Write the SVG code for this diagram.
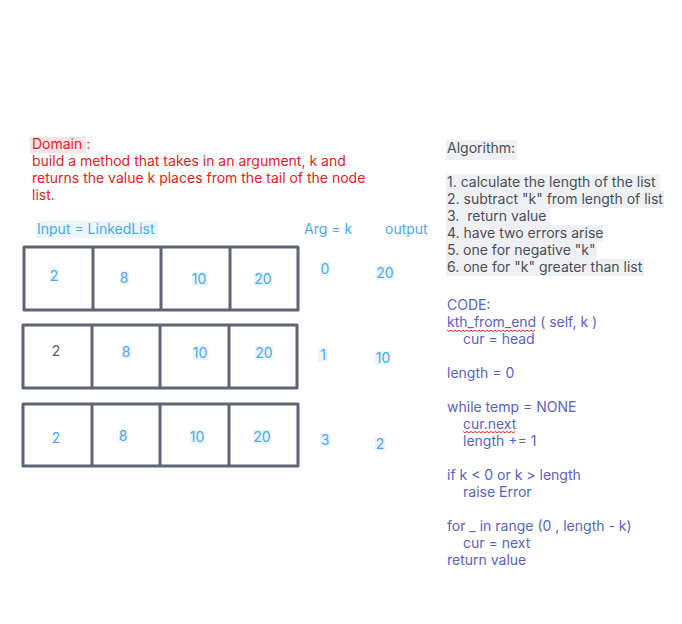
<svg xmlns="http://www.w3.org/2000/svg" width="682" height="624" viewBox="0 0 682 624">
<style>
text{font-family:Inter,"Noto Sans","Liberation Sans",sans-serif;font-size:14px;white-space:pre;}
.red{fill:#e8231e;}
.blue{fill:#4ea8f2;}
.alg{fill:#4a4e59;}
.code{fill:#5963cc;}
.dark{fill:#5a606b;}
.hb{fill:#eaf5fe;}
.hg{fill:#eef0f3;}
.hp{fill:#fde3e3;}
.box{fill:#fff;stroke:#5f6576;stroke-width:3;stroke-linejoin:round;}
.div{stroke:#5f6576;stroke-width:3;}
.sq{fill:none;stroke:#e0302a;stroke-width:1;}
</style>
<rect width="682" height="624" fill="#fff"/>
<g id="domain">
<rect class="hp" x="30" y="137" width="56" height="16"/>
<text class="red" x="32" y="149">Domain :</text>
<text class="red" x="32" y="166">build a method that takes in an argument, k and</text>
<text class="red" x="32" y="183">returns the value k places from the tail of the node</text>
<text class="red" x="32" y="200">list.</text>
</g>
<g id="headers">
<rect class="hb" x="36" y="221" width="122" height="17"/>
<text class="blue" x="37" y="234">Input = LinkedList</text>
<text class="blue" x="304" y="234">Arg = k</text>
<text class="blue" x="385" y="234">output</text>
</g>
<g id="row1">
<rect class="box" x="24" y="247" width="274" height="63"/>
<line class="div" x1="93" y1="247" x2="93" y2="310"/>
<line class="div" x1="161" y1="247" x2="161" y2="310"/>
<line class="div" x1="230" y1="247" x2="230" y2="310"/>
<rect class="hb" x="50" y="268" width="9" height="14"/>
<text class="blue" x="54" y="281" text-anchor="middle">2</text>
<rect class="hb" x="120" y="271" width="9" height="14"/>
<text class="blue" x="124" y="283" text-anchor="middle">8</text>
<rect class="hb" x="192" y="272" width="15" height="14"/>
<text class="blue" x="199" y="284" text-anchor="middle">10</text>
<rect class="hb" x="254" y="272" width="18" height="14"/>
<text class="blue" x="263" y="284" text-anchor="middle">20</text>
<rect class="hb" x="320" y="262" width="10" height="14"/>
<text class="blue" x="325" y="274" text-anchor="middle">0</text>
<rect class="hb" x="376" y="266" width="18" height="14"/>
<text class="blue" x="385" y="278" text-anchor="middle">20</text>
</g>
<g id="row2">
<rect class="box" x="23" y="325" width="274" height="63"/>
<line class="div" x1="92" y1="325" x2="92" y2="388"/>
<line class="div" x1="160" y1="325" x2="160" y2="388"/>
<line class="div" x1="229" y1="325" x2="229" y2="388"/>
<text class="dark" x="56" y="356" text-anchor="middle">2</text>
<rect class="hb" x="122" y="345" width="9" height="14"/>
<text class="blue" x="126" y="357" text-anchor="middle">8</text>
<rect class="hb" x="193" y="346" width="15" height="14"/>
<text class="blue" x="200" y="358" text-anchor="middle">10</text>
<rect class="hb" x="255" y="346" width="18" height="14"/>
<text class="blue" x="264" y="358" text-anchor="middle">20</text>
<rect class="hb" x="318" y="348" width="9" height="14"/>
<text class="blue" x="323" y="360" text-anchor="middle">1</text>
<rect class="hb" x="375" y="351" width="16" height="14"/>
<text class="blue" x="383" y="363" text-anchor="middle">10</text>
</g>
<g id="row3">
<rect class="box" x="23" y="404" width="275" height="62"/>
<line class="div" x1="92" y1="404" x2="92" y2="466"/>
<line class="div" x1="160" y1="404" x2="160" y2="466"/>
<line class="div" x1="229" y1="404" x2="229" y2="466"/>
<text class="blue" x="56" y="443" text-anchor="middle">2</text>
<rect class="hb" x="119" y="429" width="9" height="14"/>
<text class="blue" x="123" y="441" text-anchor="middle">8</text>
<rect class="hb" x="190" y="430" width="15" height="14"/>
<text class="blue" x="197" y="442" text-anchor="middle">10</text>
<rect class="hb" x="253" y="430" width="18" height="14"/>
<text class="blue" x="262" y="442" text-anchor="middle">20</text>
<rect class="hb" x="320" y="433" width="10" height="14"/>
<text class="blue" x="325" y="445" text-anchor="middle">3</text>
<rect class="hb" x="375" y="437" width="10" height="14"/>
<text class="blue" x="380" y="449" text-anchor="middle">2</text>
</g>
<g id="algorithm">
<rect class="hg" x="446" y="140" width="71" height="20"/>
<text class="alg" x="447" y="153">Algorithm:</text>
<rect class="hg" x="446" y="174" width="214" height="17"/>
<rect class="hg" x="446" y="191" width="218" height="17"/>
<rect class="hg" x="446" y="208" width="104" height="17"/>
<rect class="hg" x="446" y="225" width="157" height="17"/>
<rect class="hg" x="446" y="242" width="151" height="17"/>
<rect class="hg" x="446" y="259" width="198" height="17"/>
<text class="alg" x="447" y="187">1. calculate the length of the list</text>
<text class="alg" x="447" y="204">2. subtract "k" from length of list</text>
<text class="alg" x="447" y="221" xml:space="preserve">3.  return value</text>
<text class="alg" x="447" y="238">4. have two errors arise</text>
<text class="alg" x="447" y="255">5. one for negative "k"</text>
<text class="alg" x="447" y="272">6. one for "k" greater than list</text>
</g>
<g id="code">
<text class="code" x="447" y="310">CODE:</text>
<text class="code" x="447" y="327">kth_from_end ( self, k )</text>
<text class="code" x="463" y="344">cur = head</text>
<text class="code" x="447" y="378">length = 0</text>
<text class="code" x="447" y="412">while temp = NONE</text>
<text class="code" x="463" y="429">cur.next</text>
<text class="code" x="463" y="446">length += 1</text>
<text class="code" x="447" y="480">if k &lt; 0 or k &gt; length</text>
<text class="code" x="463" y="497">raise Error</text>
<text class="code" x="447" y="531">for _ in range (0 , length - k)</text>
<text class="code" x="463" y="548">cur = next</text>
<text class="code" x="447" y="565">return value</text>
<path class="sq" d="M447 330 l2 1.5 l2 -1.5 l2 1.5 l2 -1.5 l2 1.5 l2 -1.5 l2 1.5 l2 -1.5 l2 1.5 l2 -1.5 l2 1.5 l2 -1.5 l2 1.5 l2 -1.5 l2 1.5 l2 -1.5 l2 1.5 l2 -1.5 l2 1.5 l2 -1.5 l2 1.5 l2 -1.5 l2 1.5 l2 -1.5 l2 1.5 l2 -1.5 l2 1.5 l2 -1.5 l2 1.5 l2 -1.5 l2 1.5 l2 -1.5 l2 1.5 l2 -1.5 l2 1.5 l2 -1.5 l2 1.5 l2 -1.5 l2 1.5 l2 -1.5 l2 1.5 l2 -1.5 l2 1.5 l2 -1.5"/>
<path class="sq" d="M463 431.5 l2 1.2 l2 -1.2 l2 1.2 l2 -1.2 l2 1.2 l2 -1.2 l2 1.2 l2 -1.2 l2 1.2 l2 -1.2 l2 1.2 l2 -1.2 l2 1.2 l2 -1.2 l2 1.2 l2 -1.2 l2 1.2 l2 -1.2 l2 1.2 l2 -1.2 l2 1.2 l2 -1.2 l2 1.2 l2 -1.2 l2 1.2 l2 -1.2"/>
</g>
</svg>
